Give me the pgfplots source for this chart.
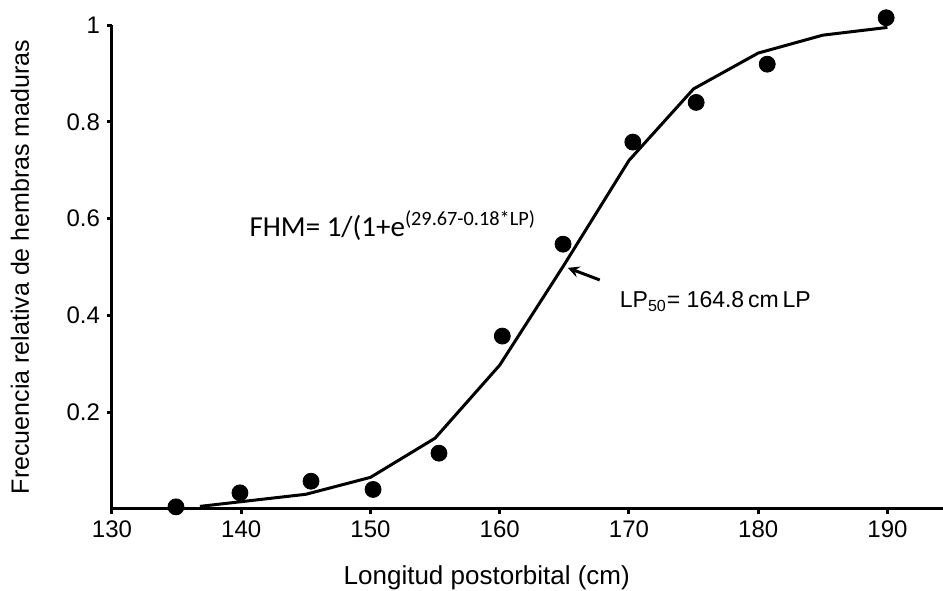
\documentclass[border=0pt]{standalone}
\usepackage{pgfplots}
\pgfplotsset{compat=1.18}
\usepackage{fontspec}
\setmainfont{Liberation Sans}
\newfontfamily\calibri{Carlito}
\begin{document}
\begin{tikzpicture}
\begin{axis}[
  scale only axis, width=415.5pt, height=241.9pt,
  xmin=130, xmax=194.3, ymin=0, ymax=1,
  clip=false,
  axis lines=left,
  axis line style={-, line width=1.5pt},
  tick align=outside,
  major tick length=2.5pt,
  tick style={black, line width=1.5pt},
  xtick={130,140,...,190},
  ytick={0.2,0.4,0.6,0.8,1},
  yticklabels={0.2,0.4,0.6,0.8,1},
  /pgf/number format/assume math mode=true,
  ticklabel style={font=\fontsize{12}{14}\selectfont},
  xlabel={Longitud postorbital (cm)},
  ylabel={Frecuencia relativa de hembras maduras},
  xlabel style={font=\fontsize{13}{15}\selectfont, at={(axis description cs:0.451,-0.1426)}, anchor=center},
  ylabel style={font=\fontsize{12.5}{15}\selectfont, at={(axis description cs:-0.1107,0.5)}, anchor=center},
]
\addplot[black, line width=1.5pt, no markers] coordinates {
(136.8,0.005) (145,0.03) (150,0.065) (155,0.146) (160,0.297) (165,0.505)
(170,0.72) (175,0.868) (180,0.942) (185,0.979) (190,0.995)
};
\addplot[only marks, mark=*, mark size=4pt, black] coordinates {
(134.95,0.004) (139.9,0.033) (145.4,0.057) (150.2,0.040) (155.3,0.115)
(160.2,0.357) (164.9,0.547) (170.3,0.758) (175.2,0.840) (180.7,0.919) (189.9,1.015)
};
\draw[-stealth, line width=1.5pt] (axis cs:167.74,0.473) -- (axis cs:165.27,0.498);
\node[anchor=west, font=\calibri\fontsize{14.5}{16}\selectfont] at (axis cs:140.1,0.585) {FHM= 1/(1+e\textsuperscript{(29.67-0.18*LP)}};
\node[anchor=west, font=\fontsize{11.5}{14}\selectfont] at (axis cs:168.75,0.428) {LP\textsubscript{50}= 164.8\,cm\,LP};
\coordinate (sw) at (rel axis cs:0,0);
\coordinate (ne) at (rel axis cs:1,1);
\end{axis}
\pgfresetboundingbox
\path ([shift={(-56pt,-40.6pt)}]sw) rectangle ([shift={(0,12.5pt)}]ne);
\end{tikzpicture}
\end{document}
